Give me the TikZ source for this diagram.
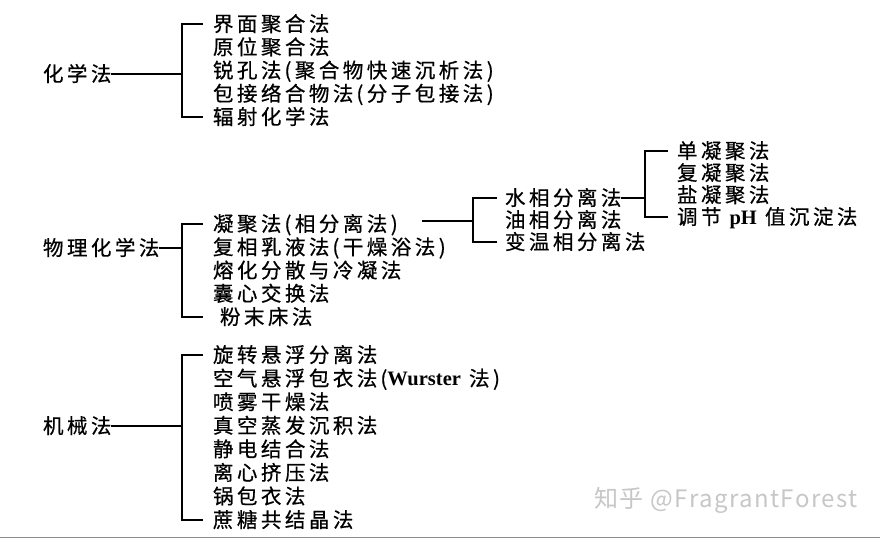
\documentclass[tikz,border=0pt]{standalone}
\usepackage{fontspec}
\setmainfont{Noto Sans CJK SC}[LetterSpace=17, FakeBold=0.6]
\newfontfamily\wmfont{Noto Sans CJK SC}[LetterSpace=6]
\newfontfamily\latin{Liberation Serif}
\newcommand\lp{\kern3pt(}
\usetikzlibrary{positioning, calc}
\tikzset{
  cat/.style  = {anchor=west, inner sep=0pt, outer sep=0pt,
                 font=\fontsize{20.5}{24}\selectfont,
                 text height=19pt, text depth=4.25pt},
  itm/.style  = {cat},
  br/.style   = {draw=black, line width=1.4pt},
  wm/.style   = {inner sep=0pt, font=\wmfont\fontsize{24}{28}\selectfont, text=black!22},
}

\begin{document}
\begin{tikzpicture}[x=1pt, y=-1pt, node distance=0pt]
  \useasboundingbox[fill=white] (0,0) rectangle (880,539);

  % chemical methods
  \node[cat] (chem) at (43,74) {化学法};
  \node[itm] (c11) at (213,24) {界面聚合法};
  \node[itm, below=of c11.south west, anchor=north west] (c12) {原位聚合法};
  \node[itm, below=of c12.south west, anchor=north west] (c13) {锐孔法\lp 聚合物快速沉析法)};
  \node[itm, below=of c13.south west, anchor=north west] (c14) {包接络合物法\lp 分子包接法)};
  \node[itm, below=of c14.south west, anchor=north west] (c15) {辐射化学法};
  \coordinate (b1) at (182,74);
  \draw[br] (chem.east) -- (b1);
  \draw[br] ([xshift=-10pt]c11.west) -| (b1) |- ([xshift=-10pt]c15.west);

  % physico-chemical methods
  \node[cat] (phys) at (43,248) {物理化学法};
  \node[itm] (c21) at (213,224) {凝聚法\lp 相分离法)};
  \node[itm, below=of c21.south west, anchor=north west] (c22) {复相乳液法\lp 干燥浴法)};
  \node[itm, below=of c22.south west, anchor=north west] (c23) {熔化分散与冷凝法};
  \node[itm, below=of c23.south west, anchor=north west] (c24) {囊心交换法};
  \node[itm, below=of c24.south west, anchor=north west] (c25) {\kern7pt粉末床法};
  \coordinate (b2) at (182,248);
  \draw[br] (phys.east) -- (b2);
  \draw[br] ([xshift=-10pt]c21.west) -| (b2) |- ([xshift=-10pt]c25.west);

  \node[itm] (d1) at (505,198) {水相分离法};
  \node[itm, below=-1.25pt of d1.south west, anchor=north west] (d2) {油相分离法};
  \node[itm, below=-1.25pt of d2.south west, anchor=north west] (d3) {变温相分离法};
  \coordinate (s1) at (473,221);
  \draw[br] ([xshift=24pt,yshift=3pt]c21.east) -- (s1);
  \draw[br] ([xshift=-8pt]d1.west) -| (s1) |- ([xshift=-8pt]d3.west);

  \node[itm] (e1) at (677,151) {单凝聚法};
  \node[itm, below=-1.25pt of e1.south west, anchor=north west] (e2) {复凝聚法};
  \node[itm, below=-1.25pt of e2.south west, anchor=north west] (e3) {盐凝聚法};
  \node[itm, below=-1.25pt of e3.south west, anchor=north west] (e4) {调节 {\latin\bfseries pH} 值沉淀法};
  \coordinate (s2) at (645,198);
  \draw[br] (d1.east) -- (s2);
  \draw[br] ([xshift=-9pt]e1.west) -| (s2) |- ([xshift=-9pt]e4.west);

  % mechanical methods
  \node[cat] (mech) at (43,426) {机械法};
  \node[itm] (c31) at (213,355) {旋转悬浮分离法};
  \node[itm, below=0.32pt of c31.south west, anchor=north west] (c32) {空气悬浮包衣法\lp{\latin\bfseries Wurster} 法)};
  \node[itm, below=0.32pt of c32.south west, anchor=north west] (c33) {喷雾干燥法};
  \node[itm, below=0.32pt of c33.south west, anchor=north west] (c34) {真空蒸发沉积法};
  \node[itm, below=0.32pt of c34.south west, anchor=north west] (c35) {静电结合法};
  \node[itm, below=0.32pt of c35.south west, anchor=north west] (c36) {离心挤压法};
  \node[itm, below=0.32pt of c36.south west, anchor=north west] (c37) {锅包衣法};
  \node[itm, below=0.32pt of c37.south west, anchor=north west] (c38) {蔗糖共结晶法};
  \coordinate (b3) at (182,426);
  \draw[br] (mech.east) -- (b3);
  \draw[br] ([xshift=-10pt]c31.west) -| (b3) |- ([xshift=-10pt]c38.west);

  % watermark and bottom rule
  \node[wm] (mark) at (726,500) {知乎 @FragrantForest};
  \draw[black!45, line width=1.2pt] (0,537.5) -- (880,537.5);
\end{tikzpicture}
\end{document}
